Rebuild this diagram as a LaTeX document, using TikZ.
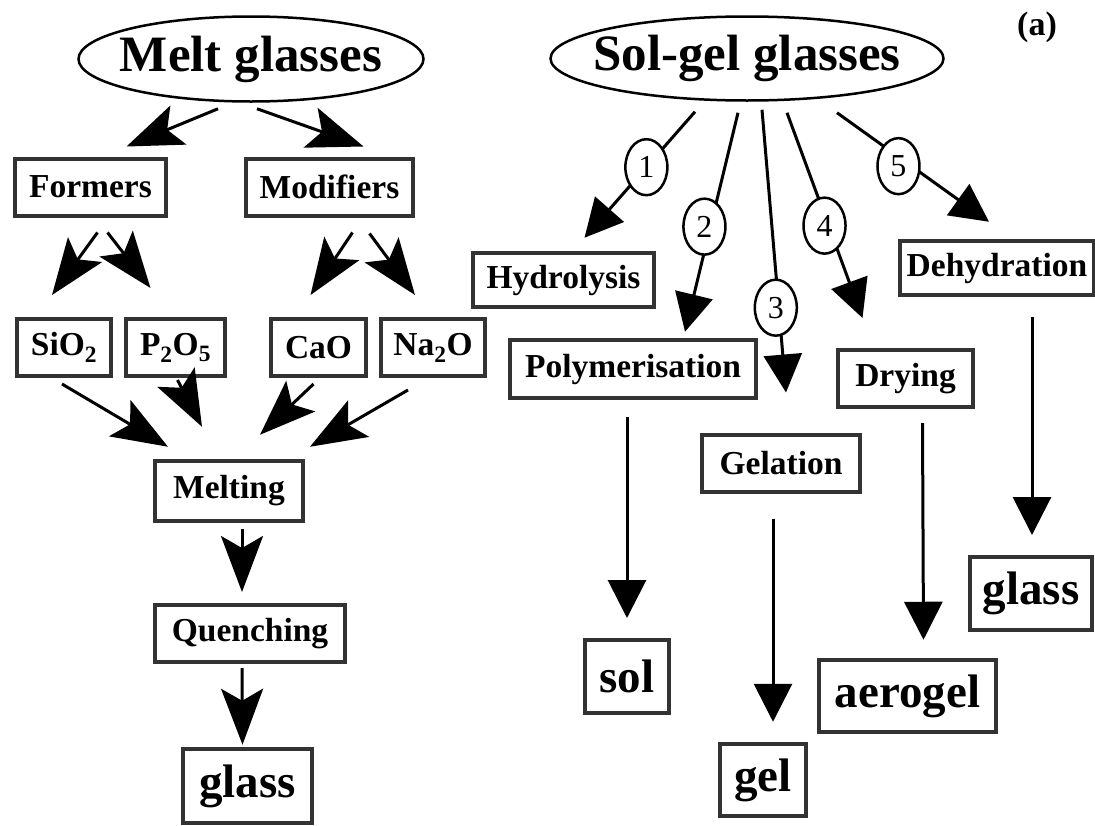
\documentclass[tikz,border=0pt]{standalone}
\usepackage{fontspec}
\setmainfont{Liberation Serif}
\usetikzlibrary{arrows.meta,shapes.geometric}

\begin{document}
\begin{tikzpicture}[
  x=1pt, y=-1pt,
  root/.style={
    draw,
    ellipse,
    line width=2.5pt,
    inner sep=0pt,
    font=\bfseries\fontsize{51}{53}\selectfont
  },
  proc/.style={
    draw=black!80,
    line width=4pt,
    inner sep=0pt,
    minimum height=57pt,
    font=\bfseries\fontsize{33.5}{36}\selectfont
  },
  product/.style={
    proc,
    minimum height=73pt,
    font=\bfseries\fontsize{47}{49}\selectfont
  },
  tag/.style={
    draw,
    ellipse,
    fill=white,
    line width=2.5pt,
    inner sep=0pt,
    minimum width=42pt,
    minimum height=56pt,
    font=\fontsize{32}{34}\selectfont
  },
  feed/.style={
    -{Stealth[length=56pt,width=42pt,inset=12pt]},
    line width=3pt
  },
  route/.style={
    -{Triangle[length=38pt,width=38pt]},
    line width=3pt
  }
]
\useasboundingbox (0,0) rectangle (1095,825);

\node[root, minimum width=345pt, minimum height=85pt] (melt) at (251,59) {\makebox[0pt]{Melt glasses}};
\node[root, minimum width=393pt, minimum height=84pt] (solgel) at (747,58.5) {\makebox[0pt]{Sol-gel glasses}};
\node[font=\bfseries\fontsize{34}{36}\selectfont] (panel) at (1037,27) {(a)};

\node[proc, minimum width=151.5pt] (formers) at (90.5,187) {Formers};
\node[proc, minimum width=167.5pt] (modifiers) at (329.5,187) {Modifiers};
\node[proc, minimum width=94.5pt] (sio) at (64,347.5) {SiO\textsubscript{2}};
\node[proc, minimum width=99.5pt] (p2o5) at (175.5,347.5) {P\textsubscript{2}O\textsubscript{5}};
\node[proc, minimum width=95.5pt] (cao) at (318.5,347.5) {CaO};
\node[proc, minimum width=104.5pt] (na2o) at (433,347.5) {Na\textsubscript{2}O};
\node[proc, minimum width=148.5pt, minimum height=60.5pt] (melting) at (229,491) {Melting};
\node[proc, minimum width=190.5pt] (quench) at (250,633.5) {Quenching};
\node[product, minimum width=129.5pt, minimum height=74.5pt] (glassa) at (247.5,786) {glass};

\node[proc, minimum width=181.5pt, minimum height=54.5pt] (hydro) at (563.5,280) {Hydrolysis};
\node[proc, minimum width=246.5pt, minimum height=58.5pt] (poly) at (633,369) {Polymerisation};
\node[proc, minimum width=158.5pt] (gelation) at (781,463) {Gelation};
\node[proc, minimum width=135.5pt] (drying) at (905.5,378.5) {Drying};
\node[proc, minimum width=194.5pt, minimum height=54.5pt] (dehyd) at (997,268) {Dehydration};
\node[product, minimum width=84.5pt] (sol) at (627,676.5) {sol};
\node[product, minimum width=86.5pt, minimum height=72.5pt] (gel) at (763,780) {gel};
\node[product, minimum width=177.5pt, minimum height=72.5pt] (aerogel) at (907.5,696) {aerogel};
\node[product, minimum width=122.5pt] (glassb) at (1031,593.5) {glass};

\draw[feed] ([shift={(-33,6)}]melt.south) -- ([shift={(36,-10)}]formers.north);
\draw[feed] ([shift={(6,6)}]melt.south) -- ([shift={(34,-10)}]modifiers.north);
\draw[feed] ([shift={(7,15)}]formers.south) -- ([shift={(-12,-22)}]sio.north);
\draw[feed] ([shift={(17,15)}]formers.south) -- ([shift={(-25,-29)}]p2o5.north);
\draw[feed] ([shift={(23,15)}]modifiers.south) -- ([shift={(-8,-22)}]cao.north);
\draw[feed] ([shift={(40,16)}]modifiers.south) -- ([shift={(-18,-22)}]na2o.north);
\draw[feed] ([shift={(-2,6)}]sio.south) -- ([shift={(-61,-12)}]melting.north);
\draw[feed] ([shift={(2,2)}]p2o5.south) -- ([shift={(-27,-32)}]melting.north);
\draw[feed] ([shift={(-5,6)}]cao.south) -- ([shift={(31,-24)}]melting.north);
\draw[feed] ([shift={(-25,12)}]na2o.south) -- ([shift={(81,-12)}]melting.north);
\draw[feed] ([shift={(13,6)}]melting.south) -- ([shift={(-8,-11)}]quench.north);
\draw[feed] ([shift={(-8,4)}]quench.south) -- ([shift={(-5,-2)}]glassa.north);

\draw[route] ([shift={(-52,10)}]solgel.south) -- node[tag, pos=.44] {1} ([shift={(21,-13)}]hydro.north);
\draw[route] ([shift={(-9,11)}]solgel.south) -- node[tag, pos=.52, xshift=-6pt] {2} ([shift={(52,-6)}]poly.north);
\draw[route] ([shift={(15,8)}]solgel.south) -- node[tag, pos=.70, xshift=-3pt] {3} ([shift={(5,-40)}]gelation.north);
\draw[route] ([shift={(40,11)}]solgel.south) -- node[tag, pos=.55, xshift=-4pt] {4} ([shift={(-43,-30)}]drying.north);
\draw[route] ([shift={(90,11)}]solgel.south) -- node[tag, pos=.49, xshift=-13pt] {5} ([shift={(-8,-17)}]dehyd.north);

\draw[route] ([shift={(-6,17)}]poly.south) -- ([shift={(0,-20)}]sol.north);
\draw[route] ([shift={(-8,25)}]gelation.south) -- ([shift={(10,-20)}]gel.north);
\draw[route] ([shift={(17,14)}]drying.south) -- ([shift={(16,-18)}]aerogel.north);
\draw[route] ([shift={(35,20)}]dehyd.south) -- ([shift={(1,-20)}]glassb.north);
\end{tikzpicture}
\end{document}
